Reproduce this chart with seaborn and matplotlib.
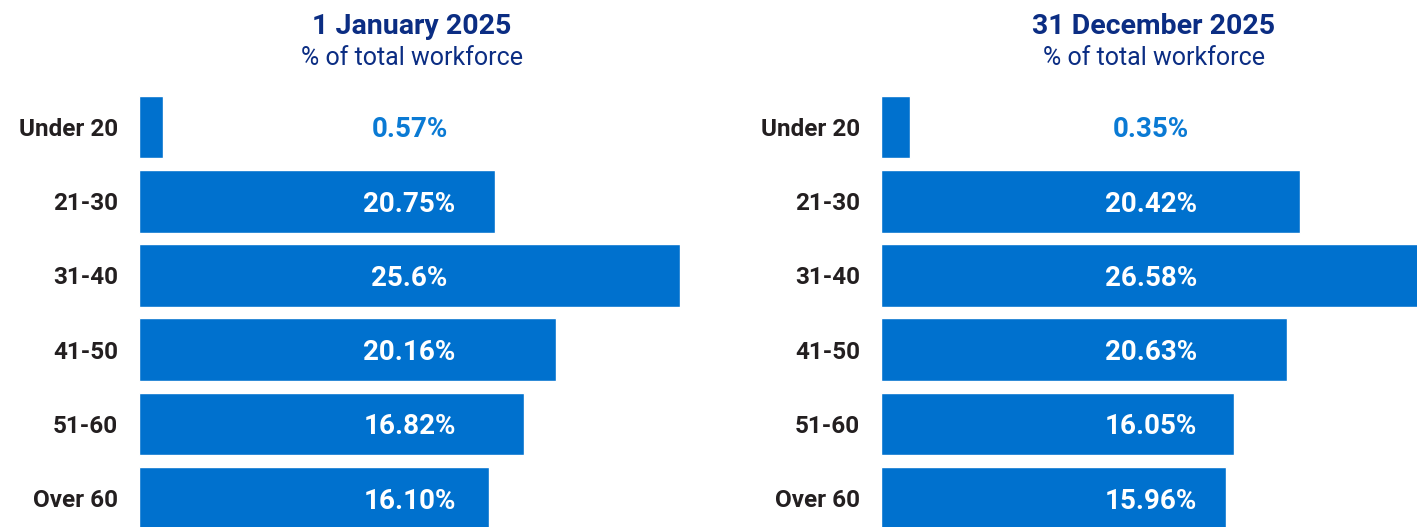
import matplotlib
matplotlib.use("Agg")
import matplotlib.pyplot as plt
import seaborn as sns
import pandas as pd

categories = ["Under 20", "21-30", "31-40", "41-50", "51-60", "Over 60"]
# bar lengths as drawn in the picture (% scale)
jan_bar = [1.14, 16.85, 25.6, 19.73, 18.22, 16.56]
dec_bar = [1.43, 20.6, 26.58, 20.0, 17.4, 17.0]
jan_labels = ["0.57%", "20.75%", "25.6%", "20.16%", "16.82%", "16.10%"]
dec_labels = ["0.35%", "20.42%", "26.58%", "20.63%", "16.05%", "15.96%"]
titles = ["1 January 2025", "31 December 2025"]
subtitle = "% of total workforce"

BAR = "#0071CE"
NAVY = "#0B2D83"
DARK = "#231F20"
LIGHT = "#0A7AD4"

sns.set_theme(style="white")
FONT = ["Roboto", "DejaVu Sans"]
plt.rcParams["font.family"] = FONT

W, H = 1417, 527
fig = plt.figure(figsize=(W / 100, H / 100), dpi=100)

panels = [
    (139, 541, jan_bar, jan_labels, titles[0], 412),
    (881, 540, dec_bar, dec_labels, titles[1], 1154),
]

for x0, w, bars, labels, title, tx in panels:
    ax = fig.add_axes([x0 / W, 0, w / W, 1])
    df = pd.DataFrame({"cat": categories, "val": bars})
    sns.barplot(data=df, x="val", y="cat", color=BAR, saturation=1,
                width=0.845, ax=ax, orient="h")
    ax.set_xlim(0, max(bars))
    ax.set_ylim((527 - 127) / 74.25, -127 / 74.25)
    for s in ax.spines.values():
        s.set_visible(False)
    ax.set_xticks([])
    ax.set_xlabel("")
    ax.set_ylabel("")
    ax.tick_params(axis="y", length=0, pad=15)
    for t in ax.get_yticklabels():
        t.set_fontweight("bold")
        t.set_fontsize(17.5)
        t.set_color(DARK)
    for i, lab in enumerate(labels):
        col = LIGHT if i == 0 else "white"
        ax.text(0.5, i, lab, transform=ax.get_yaxis_transform(),
                ha="center", va="center_baseline", fontsize=20,
                fontweight="bold", color=col)
    fig.text(tx / W, 1 - 34 / H, title, ha="center", va="baseline",
             fontsize=20.5, fontweight="bold", color=NAVY)
    fig.text(tx / W, 1 - 65 / H, subtitle, ha="center", va="baseline",
             fontsize=18, fontweight="normal", color=NAVY)

fig.savefig("out.png", dpi=100, facecolor="white")
